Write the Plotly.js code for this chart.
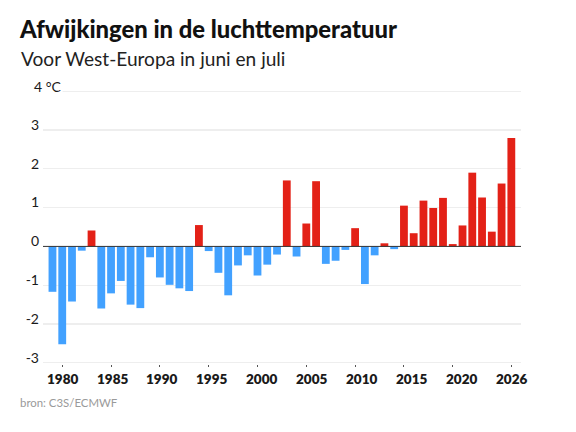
<!DOCTYPE html>
<html><head><meta charset="utf-8">
<script src="https://cdn.plot.ly/plotly-3.0.1.min.js"></script>
<style>html,body{margin:0;padding:0;background:#fff}</style></head>
<body><div id="chart" style="width:576px;height:432px"></div>
<script>
const titleText = "Afwijkingen in de luchttemperatuur";
const subtitleText = "Voor West-Europa in juni en juli";
const sourceText = "bron: C3S/ECMWF";
const years = [1979,1980,1981,1982,1983,1984,1985,1986,1987,1988,1989,1990,1991,1992,1993,1994,1995,1996,1997,1998,1999,2000,2001,2002,2003,2004,2005,2006,2007,2008,2009,2010,2011,2012,2013,2014,2015,2016,2017,2018,2019,2020,2021,2022,2023,2024,2025,2026];
const anomalies = [-1.17,-2.52,-1.42,-0.11,0.41,-1.60,-1.21,-0.89,-1.50,-1.59,-0.28,-0.80,-0.99,-1.08,-1.15,0.55,-0.12,-0.68,-1.26,-0.49,-0.23,-0.75,-0.47,-0.21,1.70,-0.26,0.59,1.68,-0.45,-0.37,-0.09,0.47,-0.97,-0.23,0.08,-0.07,1.05,0.34,1.18,0.99,1.25,0.06,0.54,1.90,1.26,0.38,1.62,2.79];
const xTicks = [1980,1985,1990,1995,2000,2005,2010,2015,2020,2026];
const xLabelPos = [1980.03,1985.13,1990.2,1995.3,2000.4,2005.5,2010.65,2015.75,2020.85,2026];
const yTicks = [-3,-2,-1,0,1,2,3];
const RED = "#e2180e", BLUE = "#3a9dff";
const FONT = "Lato";
const W = 576, H = 432, L = 43.3, R = 55, T = 89.83, B = 68.13;
const pw = W-L-R, ph = H-T-B;
const px = v => (v-L)/pw, py = v => (H-B-v)/ph;
const xAnn = xTicks.map((t,i)=>({x:xLabelPos[i],xref:"x",y:-3,yref:"y",yshift:-16,text:String(t),showarrow:false,xanchor:"center",yanchor:"middle",font:{family:FONT,size:13.5,weight:800,color:"#1a1a1a"}}));
Plotly.newPlot("chart",[{
  type:"bar",x:years,y:anomalies,width:0.8,
  marker:{color:anomalies.map(v=>v>=0?RED:BLUE),opacity:0.96,line:{width:0}},
  hoverinfo:"skip"
}],{
  width:W,height:H,paper_bgcolor:"#fff",plot_bgcolor:"#fff",showlegend:false,
  margin:{l:L,r:R,t:T,b:B,pad:0},
  font:{family:FONT,color:"#1a1a1a"},
  xaxis:{range:[1978.03,2026.99],tickmode:"array",tickvals:xTicks,ticktext:xTicks.map(()=>""),ticks:"outside",ticklen:2,tickwidth:1,tickcolor:"#555",showgrid:false,zeroline:false,showline:false,fixedrange:true},
  yaxis:{range:[-3.03,4.03],tickmode:"array",tickvals:[...yTicks,4],ticktext:[...yTicks.map(String),""],ticks:"",ticklabelshift:-5,ticklabelstandoff:3,tickfont:{family:FONT,size:14,color:"#1a1a1a"},showgrid:true,gridcolor:"#eeeeee",gridwidth:1.3,zeroline:false,showline:false,fixedrange:true},
  shapes:[{type:"line",xref:"paper",yref:"y",x0:0,x1:1,y0:0,y1:0,line:{color:"#333",width:1},layer:"above"}],
  annotations:[
    {xref:"paper",yref:"y",x:px(33.5),y:4,yshift:5,xanchor:"left",yanchor:"middle",text:"4 °C",showarrow:false,font:{family:FONT,size:14,color:"#1a1a1a"},bgcolor:"#fff",borderpad:0},
    {xref:"paper",yref:"paper",x:px(19),y:py(58.5),xanchor:"left",yanchor:"middle",text:subtitleText,showarrow:false,font:{family:FONT,size:19.1,color:"#222"}},
    {xref:"paper",yref:"paper",x:px(18),y:py(402.5),xanchor:"left",yanchor:"middle",text:sourceText,showarrow:false,font:{family:FONT,size:11.4,color:"#9a9a9a"}},
    ...xAnn
  ],
  title:{text:titleText,x:20/W,xanchor:"left",xref:"container",y:1-30/H,yanchor:"middle",yref:"container",pad:{l:0,r:0,t:0,b:0},font:{family:FONT,size:23.8,weight:900,color:"#111"}}
},{displayModeBar:false,staticPlot:true});
</script></body></html>
